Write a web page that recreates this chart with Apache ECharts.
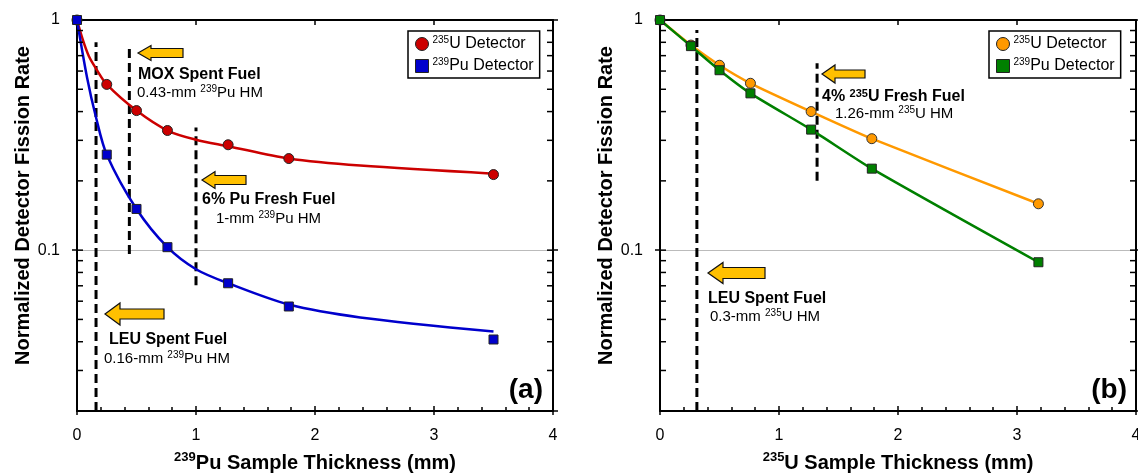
<!DOCTYPE html>
<html><head><meta charset="utf-8">
<script src="https://cdn.jsdelivr.net/npm/echarts@6/dist/echarts.min.js"></script>
<style>html,body{margin:0;padding:0;background:#fff}#c{width:1138px;height:476px}</style>
</head><body><div id="c"></div>
<script>
// ---------------- data ----------------
// Panel (a): 239Pu sample thickness (mm)
const thickA = [0, 0.25, 0.5, 0.76, 1.27, 1.78, 3.5];
const u235DetA = [1, 0.525, 0.404, 0.331, 0.287, 0.25, 0.213];
const pu239DetA = [1, 0.26, 0.151, 0.103, 0.0718, 0.0569, 0.0409];
// fitted curves of panel (a)
const u235FitXA = [0, 0.05, 0.1, 0.16, 0.25, 0.5, 0.76, 1, 1.27, 1.78, 2.38, 3.5];
const u235FitYA = [1, 0.818, 0.696, 0.615, 0.525, 0.404, 0.331, 0.302, 0.283, 0.25, 0.233, 0.215];
const pu239FitXA = [0, 0.084, 0.16, 0.25, 0.5, 0.76, 1, 1.27, 1.78, 2.38, 3.5];
const pu239FitYA = [1, 0.564, 0.377, 0.26, 0.151, 0.103, 0.0826, 0.0718, 0.058, 0.051, 0.0443];
// Panel (b): 235U sample thickness (mm)
const thickB = [0, 0.26, 0.5, 0.76, 1.27, 1.78, 3.18];
const u235DetB = [1, 0.778, 0.636, 0.531, 0.40, 0.305, 0.159];
const pu239DetB = [1, 0.77, 0.605, 0.48, 0.334, 0.226, 0.0886];
// vertical dashed reference lines: [thickness, yFrom, yTo]
const dashA = [[0.16, 0.02, 0.80], [0.44, 0.0963, 0.755], [1.0, 0.0704, 0.341]];
const dashB = [[0.31, 0.02, 0.904], [1.32, 0.2, 0.649]];
// axes / ticks
const xTickLabels = ['0', '1', '2', '3', '4'];
const xMajorTicks = [0, 1, 2, 3, 4];
const yLabelValues = [1, 0.1];
const yLabelTexts = ['1', '0.1'];
const yInsideTicks = [0.03, 0.04, 0.05, 0.06, 0.07, 0.08, 0.09, 0.1, 0.2, 0.3, 0.4, 0.5, 0.6, 0.7, 0.8, 0.9];
const legendLabels = {
  uA: '{s|235}{t|U Detector}', pA: '{s|239}{t|Pu Detector}',
  uB: '{s|235}{t|U Detector}', pB: '{s|239}{t|Pu Detector}'
};

// ---------------- chart ----------------
const FONT = 'Liberation Sans, Arial, Helvetica, sans-serif';
const X_MIN = 0, X_MAX = 4, Y_MIN = 0.02, Y_MAX = 1;
const chart = echarts.init(document.getElementById('c'), null, {renderer: 'canvas'});

function zip(xs, ys) { return xs.map((x, i) => [x, ys[i]]); }

function xBottom(gi) {
  return {
    type: 'value', gridIndex: gi, position: 'bottom', min: X_MIN, max: X_MAX, interval: 1,
    axisLine: {show: true, onZero: false, lineStyle: {color: '#000', width: 2}},
    axisTick: {show: true, inside: true, length: 5, lineStyle: {color: '#000', width: 1.5}},
    minorTick: {show: true, splitNumber: 5, length: 4, lineStyle: {color: '#000', width: 1.5}},
    axisLabel: {show: true, margin: 17, color: '#000', fontFamily: FONT, fontSize: 16,
      formatter: (v) => { const i = xMajorTicks.indexOf(Math.round(v)); return i >= 0 ? xTickLabels[i] : ''; }},
    splitLine: {show: false},
    name: gi === 0 ? '{s|239}{t|Pu Sample Thickness (mm)}' : '{s|235}{t|U Sample Thickness (mm)}',
    nameLocation: 'middle', nameGap: 40, nameMoveOverlap: false,
    nameTextStyle: {fontFamily: FONT, color: '#000', rich: {
      s: {fontSize: 13, fontWeight: 'bold', fontFamily: FONT, color: '#000', verticalAlign: 'top', lineHeight: 17},
      t: {fontSize: 20, fontWeight: 'bold', fontFamily: FONT, color: '#000', lineHeight: 24}
    }}
  };
}
function xTop(gi) {
  return {
    type: 'value', gridIndex: gi, position: 'top', min: X_MIN, max: X_MAX, interval: 1,
    axisLine: {show: true, onZero: false, lineStyle: {color: '#000', width: 2}},
    axisTick: {show: true, inside: true, length: 5, lineStyle: {color: '#000', width: 1.5}},
    axisLabel: {show: false}, splitLine: {show: false}
  };
}
function yLeft(gi) {
  return {
    type: 'log', logBase: 10, gridIndex: gi, position: 'left', min: Y_MIN, max: Y_MAX,
    axisLine: {show: true, onZero: false, lineStyle: {color: '#000', width: 2}},
    axisTick: {show: true, inside: false, length: 5, lineStyle: {color: '#000', width: 1.5}},
    axisLabel: {show: true, margin: 17, color: '#000', fontFamily: FONT, fontSize: 16, showMinLabel: false,
      formatter: (v) => {
        const lv = Math.log10(v);
        for (let i = 0; i < yLabelValues.length; i++) {
          if (Math.abs(lv - Math.log10(yLabelValues[i])) < 1e-6) return yLabelTexts[i];
        }
        return '';
      }},
    splitLine: {show: true, lineStyle: {color: '#bbbbbb', width: 1}},
    name: 'Normalized Detector Fission Rate', nameLocation: 'middle', nameGap: 44, nameRotate: 90,
    nameMoveOverlap: false,
    nameTextStyle: {fontFamily: FONT, fontSize: 20, fontWeight: 'bold', color: '#000', padding: [0, 0, 0, 20]}
  };
}
function yRight(gi) {
  return {
    type: 'log', logBase: 10, gridIndex: gi, position: 'right', min: Y_MIN, max: Y_MAX,
    axisLine: {show: true, onZero: false, lineStyle: {color: '#000', width: 2}},
    axisTick: {show: true, inside: false, length: 5, lineStyle: {color: '#000', width: 1.5}},
    axisLabel: {show: false}, splitLine: {show: false}
  };
}

function yTickSeries(ax) {
  return {
    type: 'custom', xAxisIndex: ax, yAxisIndex: ax, silent: true, z: 5,
    data: yInsideTicks.map(v => [X_MIN, v]),
    renderItem: (params, api) => {
      const v = api.value(1);
      const p0 = api.coord([X_MIN, v]);
      const p1 = api.coord([X_MAX, v]);
      return {type: 'group', children: [
        {type: 'line', shape: {x1: p0[0], y1: p0[1], x2: p0[0] + 6, y2: p0[1]}, style: {stroke: '#000', lineWidth: 1.5}},
        {type: 'line', shape: {x1: p1[0] - 6, y1: p1[1], x2: p1[0], y2: p1[1]}, style: {stroke: '#000', lineWidth: 1.5}}
      ]};
    }
  };
}
function xOutTickSeries(ax) {
  return {
    type: 'custom', xAxisIndex: ax, yAxisIndex: ax, silent: true, z: 5,
    data: xMajorTicks.map(v => [v, Y_MIN]),
    renderItem: (params, api) => {
      const p = api.coord([api.value(0), Y_MIN]);
      return {type: 'line', shape: {x1: p[0], y1: p[1], x2: p[0], y2: p[1] + 4}, style: {stroke: '#000', lineWidth: 1.5}};
    }
  };
}
function dashSeries(ax, d, idx) {
  return {
    type: 'line', name: 'dash' + ax + '_' + idx, xAxisIndex: ax, yAxisIndex: ax, silent: true,
    symbol: 'none', z: 3,
    lineStyle: {color: '#000', width: 3, type: [9, 5]},
    data: [[d[0], d[1]], [d[0], d[2]]]
  };
}

const series = [];
// panel (a)
dashA.forEach((d, i) => series.push(dashSeries(0, d, i)));
series.push({type: 'line', name: 'fitUA', xAxisIndex: 0, yAxisIndex: 0, data: zip(u235FitXA, u235FitYA),
  showSymbol: false, symbol: 'none', smooth: 0.3, silent: true, z: 4,
  lineStyle: {color: '#CC0000', width: 2.5}});
series.push({type: 'line', name: 'fitPA', xAxisIndex: 0, yAxisIndex: 0, data: zip(pu239FitXA, pu239FitYA),
  showSymbol: false, symbol: 'none', smooth: 0.3, silent: true, z: 4,
  lineStyle: {color: '#0000CC', width: 2.5}});
series.push({type: 'scatter', name: 'uA', xAxisIndex: 0, yAxisIndex: 0, data: zip(thickA, u235DetA),
  symbol: 'circle', symbolSize: 10, z: 6, itemStyle: {color: '#CC0000', borderColor: '#222', borderWidth: 1, opacity: 1}});
series.push({type: 'scatter', name: 'pA', xAxisIndex: 0, yAxisIndex: 0, data: zip(thickA, pu239DetA),
  symbol: 'rect', symbolSize: 9, z: 7, itemStyle: {color: '#0000CC', borderColor: '#222', borderWidth: 1, opacity: 1}});
series.push(yTickSeries(0));
series.push(xOutTickSeries(0));
// panel (b)
dashB.forEach((d, i) => series.push(dashSeries(2, d, i)));
series.push({type: 'line', name: 'uB', xAxisIndex: 2, yAxisIndex: 2, data: zip(thickB, u235DetB),
  symbol: 'circle', symbolSize: 10, showSymbol: true, smooth: 0.2, z: 6,
  lineStyle: {color: '#FF9900', width: 2.5},
  itemStyle: {color: '#FF9900', borderColor: '#333', borderWidth: 1, opacity: 1}});
series.push({type: 'line', name: 'pB', xAxisIndex: 2, yAxisIndex: 2, data: zip(thickB, pu239DetB),
  symbol: 'rect', symbolSize: 9, showSymbol: true, smooth: 0.2, z: 7,
  lineStyle: {color: '#008000', width: 2.5},
  itemStyle: {color: '#008000', borderColor: '#222', borderWidth: 1, opacity: 1}});
series.push(yTickSeries(2));
series.push(xOutTickSeries(2));

function legendCfg(left, names) {
  return {
    show: true, orient: 'vertical', left: left, top: 31,
    data: [{name: names[0], icon: 'circle'}, {name: names[1], icon: 'rect'}],
    padding: [4, 6, 4, 7], itemGap: 5, itemWidth: 13, itemHeight: 13,
    borderColor: '#000', borderWidth: 1.5, backgroundColor: '#fff', borderRadius: 0,
    selectedMode: false,
    itemStyle: {borderColor: '#222', borderWidth: 1},
    formatter: (n) => legendLabels[n],
    textStyle: {fontFamily: FONT, color: '#000', padding: [0, 0, 0, -1], rich: {
      s: {fontSize: 10, fontFamily: FONT, color: '#000', verticalAlign: 'top', lineHeight: 12},
      t: {fontSize: 16, fontFamily: FONT, color: '#000', lineHeight: 18}
    }}
  };
}

// annotation graphics (arrows + labels)
function arrow(tip, tail, cy, headH, bodyH, headL) {
  return {
    type: 'polygon', z: 100,
    shape: {points: [[tip, cy], [tip + headL, cy - headH / 2], [tip + headL, cy - bodyH / 2], [tail, cy - bodyH / 2],
      [tail, cy + bodyH / 2], [tip + headL, cy + bodyH / 2], [tip + headL, cy + headH / 2]]},
    style: {fill: '#FFC000', stroke: '#111', lineWidth: 1.2}
  };
}
const annRich = {
  b: {fontSize: 16, fontWeight: 'bold', fontFamily: FONT, fill: '#000', color: '#000', lineHeight: 18},
  bs: {fontSize: 11, fontWeight: 'bold', fontFamily: FONT, fill: '#000', color: '#000', verticalAlign: 'top', lineHeight: 14},
  r: {fontSize: 15, fontFamily: FONT, fill: '#000', color: '#000', lineHeight: 18},
  s: {fontSize: 10, fontFamily: FONT, fill: '#000', color: '#000', verticalAlign: 'top', lineHeight: 13}
};
function label(x, y, text, opts) {
  return {
    type: 'text', z: 100, x: x, y: y,
    style: Object.assign({text: text, rich: annRich, align: 'left', verticalAlign: 'middle',
      textAlign: 'left', textVerticalAlign: 'middle', fill: '#000', font: '15px ' + FONT}, opts || {})
  };
}
const graphics = [
  arrow(138, 183, 53, 15, 9, 13),
  arrow(202, 246, 180, 17, 9, 13),
  arrow(105, 164, 314, 22, 10, 15),
  arrow(822, 865, 74, 18, 8, 13),
  arrow(708, 765, 273, 21, 11, 15),
  label(138, 75, '{b|MOX Spent Fuel}'),
  label(137, 93, '{r|0.43-mm }{s|239}{r|Pu HM}'),
  label(202, 200, '{b|6% Pu Fresh Fuel}'),
  label(216, 219, '{r|1-mm }{s|239}{r|Pu HM}'),
  label(109, 340, '{b|LEU Spent Fuel}'),
  label(104, 359, '{r|0.16-mm }{s|239}{r|Pu HM}'),
  label(822, 97, '{b|4% }{bs|235}{b|U Fresh Fuel}'),
  label(835, 114, '{r|1.26-mm }{s|235}{r|U HM}'),
  label(708, 299, '{b|LEU Spent Fuel}'),
  label(710, 317, '{r|0.3-mm }{s|235}{r|U HM}'),
  {type: 'text', z: 100, x: 543, y: 390, style: {text: '(a)', font: 'bold 28px ' + FONT, fill: '#000',
    align: 'right', verticalAlign: 'middle', textAlign: 'right', textVerticalAlign: 'middle'}},
  {type: 'text', z: 100, x: 1127, y: 390, style: {text: '(b)', font: 'bold 28px ' + FONT, fill: '#000',
    align: 'right', verticalAlign: 'middle', textAlign: 'right', textVerticalAlign: 'middle'}}
];

chart.setOption({
  backgroundColor: '#ffffff',
  animation: false,
  textStyle: {fontFamily: FONT},
  grid: [
    {left: 77, top: 20, width: 476, height: 391, containLabel: false, outerBoundsMode: 'none'},
    {left: 660, top: 20, width: 476, height: 391, containLabel: false, outerBoundsMode: 'none'}
  ],
  xAxis: [xBottom(0), xTop(0), xBottom(1), xTop(1)].map((a, i) => Object.assign(a, {gridIndex: i < 2 ? 0 : 1})),
  yAxis: [yLeft(0), yRight(0), yLeft(1), yRight(1)].map((a, i) => Object.assign(a, {gridIndex: i < 2 ? 0 : 1})),
  legend: [legendCfg(408, ['uA', 'pA']), legendCfg(989, ['uB', 'pB'])],
  series: series,
  graphic: graphics
});
</script></body></html>
